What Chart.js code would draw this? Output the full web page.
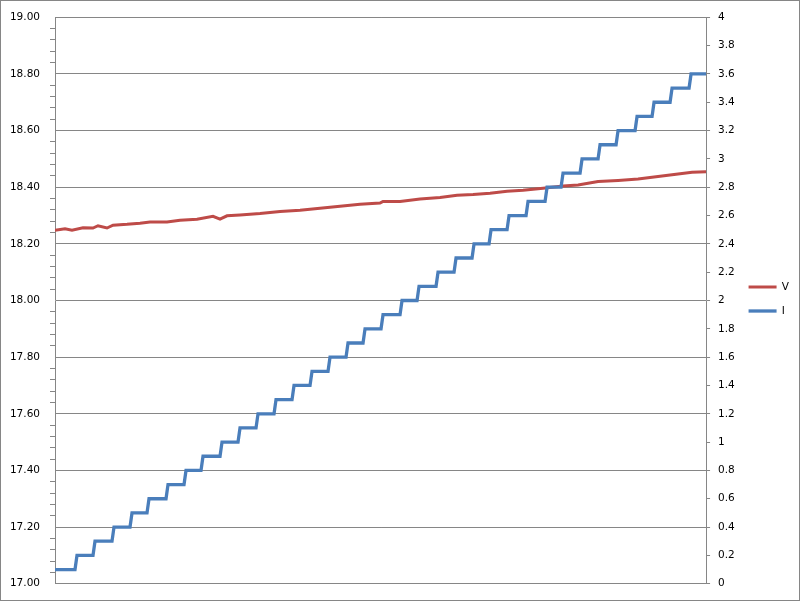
<!DOCTYPE html>
<html>
<head>
<meta charset="utf-8">
<script src="https://cdn.jsdelivr.net/npm/chart.js@4"></script>
<style>
    html, body { margin: 0; padding: 0; background: #fff; }
    #marco {
        width: 800px;
        height: 601px;
        box-sizing: border-box;
        border: 1px solid #868686;
        position: relative;
    }
</style>
</head>
<body>
<div id="marco"><canvas id="grafico"></canvas></div>
<script>
// Niveles de corriente (I) y posiciones donde sube cada escalón
const iLevels = [0.1, 0.2, 0.3, 0.4, 0.5, 0.6, 0.7, 0.8, 0.9, 1.0, 1.1, 1.2,
    1.3, 1.4, 1.5, 1.6, 1.7, 1.8, 1.9, 2.0, 2.1, 2.2, 2.3, 2.4,
    2.5, 2.6, 2.7, 2.8, 2.9, 3.0, 3.1, 3.2, 3.3, 3.4, 3.5, 3.6];
const iSteps = [21, 39, 58, 76, 93, 112, 130, 147, 166, 184, 202, 220,
    238, 256, 274, 292, 309, 327, 346, 363, 382, 400, 418, 435,
    453, 472, 491, 507, 526, 544, 562, 581, 598, 616, 635];
const lastSample = 651;

// Tensión (V)
const vTime = [0, 10, 17, 28, 38, 43, 52, 58, 72, 85, 95, 112, 125, 142, 158, 165, 172, 185,
    205, 225, 245, 265, 285, 305, 325, 328, 345, 365, 385, 402, 418, 435, 452, 468,
    488, 508, 523, 543, 563, 583, 603, 623, 637, 651];
const vValues = [18.248, 18.253, 18.248, 18.257, 18.256, 18.264, 18.256, 18.266, 18.269, 18.273,
    18.277, 18.277, 18.283, 18.287, 18.297, 18.287, 18.299, 18.302, 18.307, 18.314,
    18.319, 18.326, 18.333, 18.340, 18.344, 18.350, 18.350, 18.358, 18.364, 18.372,
    18.374, 18.379, 18.386, 18.389, 18.396, 18.404, 18.408, 18.420, 18.424, 18.429,
    18.438, 18.447, 18.453, 18.455];

// Ejes
const leftMin = 17, leftMax = 19, leftMinorStep = 0.04;
const rightMin = 0, rightMax = 4, rightStep = 0.2;

const gris = '#868686';

// Construir los puntos del escalón
const iPoints = [];
iLevels.forEach((nivel, k) => {
    const inicio = k === 0 ? 0 : iSteps[k - 1] + 1;
    const fin = k === iLevels.length - 1 ? lastSample : iSteps[k] - 1;
    iPoints.push({ x: inicio, y: nivel }, { x: fin, y: nivel });
});
const vPoints = vTime.map((t, i) => ({ x: t, y: vValues[i] }));

function esMayor(v) {
    return Math.abs(v * 5 - Math.round(v * 5)) < 1e-6;
}

const fuente = { family: 'DejaVu Sans', size: 10.5 };

new Chart(document.getElementById('grafico'), {
    type: 'line',
    data: {
        datasets: [{
            label: 'V',
            data: vPoints,
            yAxisID: 'y',
            borderColor: '#BE4B48',
            backgroundColor: '#BE4B48',
            borderWidth: 3,
            pointRadius: 0,
            order: 1
        }, {
            label: 'I',
            data: iPoints,
            yAxisID: 'y1',
            borderColor: '#4A7EBB',
            backgroundColor: '#4A7EBB',
            borderWidth: 3.3,
            pointRadius: 0,
            order: 0
        }]
    },
    options: {
        responsive: true,
        maintainAspectRatio: false,
        animation: false,
        layout: { padding: { top: 13, left: 0, right: 0, bottom: 16 } },
        scales: {
            x: {
                type: 'linear',
                min: 0,
                max: lastSample,
                ticks: { display: false },
                grid: { display: true, drawOnChartArea: false, drawTicks: false },
                border: { color: gris, width: 1 },
                afterFit: (s) => { s.height = 0; }
            },
            y: {
                position: 'left',
                min: leftMin,
                max: leftMax,
                ticks: {
                    stepSize: leftMinorStep,
                    autoSkip: false,
                    padding: 10,
                    color: '#000',
                    font: fuente,
                    callback: (v) => esMayor(v) ? v.toFixed(2) : ''
                },
                grid: {
                    color: (ctx) => ctx.tick && esMayor(ctx.tick.value) ? gris : 'rgba(0,0,0,0)',
                    tickColor: (ctx) => ctx.tick && esMayor(ctx.tick.value) ? 'rgba(0,0,0,0)' : gris,
                    tickLength: 5,
                    lineWidth: 1
                },
                border: { color: gris, width: 1 },
                afterFit: (s) => { s.width = 54; }
            },
            y1: {
                position: 'right',
                min: rightMin,
                max: rightMax,
                ticks: {
                    stepSize: rightStep,
                    padding: 8,
                    color: '#000',
                    font: fuente,
                    callback: (v) => String(Math.round(v * 10) / 10)
                },
                grid: {
                    drawOnChartArea: false,
                    tickLength: 4,
                    tickColor: gris,
                    color: gris
                },
                border: { color: gris, width: 1 },
                afterFit: (s) => { s.width = 29; }
            }
        },
        plugins: {
            legend: {
                position: 'right',
                reverse: true,
                labels: {
                    usePointStyle: true,
                    pointStyle: 'line',
                    pointStyleWidth: 28,
                    padding: 13.5,
                    color: '#000',
                    font: fuente
                }
            },
            tooltip: { enabled: false }
        }
    }
});
</script>
</body>
</html>
